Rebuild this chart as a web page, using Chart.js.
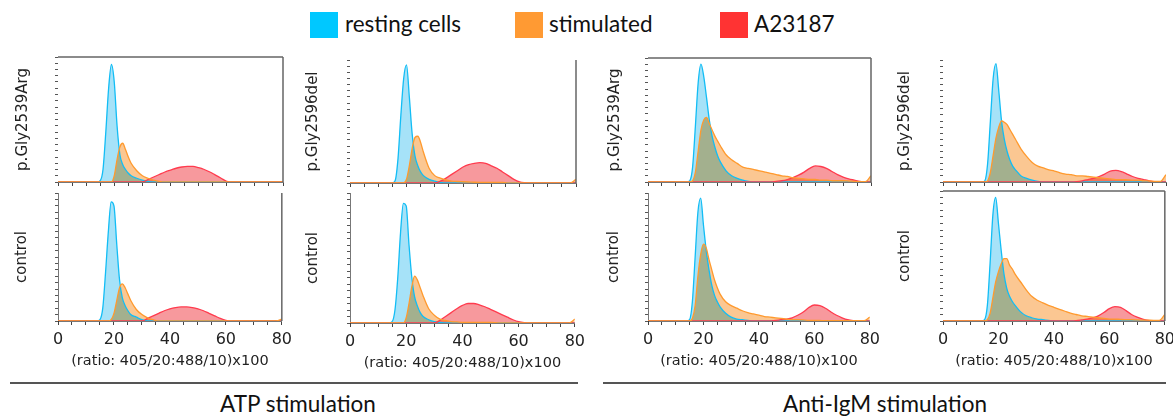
<!DOCTYPE html>
<html>
<head>
<meta charset="utf-8">
<script src="https://cdn.jsdelivr.net/npm/chart.js@4.4.1/dist/chart.umd.min.js"></script>
<style>
  html, body { margin: 0; padding: 0; background: #fff; }
  body { width: 1173px; height: 417px; position: relative; overflow: hidden; }
  .panel { position: absolute; }
  .leg { position: absolute; font-family: Lato, "Open Sans", sans-serif; font-size: 22.5px; color: #111; line-height: 26px; }
  .sw { position: absolute; width: 28px; height: 26px; }
  .hr { position: absolute; height: 2px; background: #555; }
  .grp { position: absolute; text-align: center; font-family: Lato, "Open Sans", sans-serif; font-size: 22.5px; color: #111; }
</style>
</head>
<body>

<div class="sw" style="left:310px;top:12px;background:#00C8FF"></div>
<div class="leg" style="left:345px;top:11px">resting cells</div>
<div class="sw" style="left:515px;top:12px;background:#FF9A33"></div>
<div class="leg" style="left:549px;top:11px">stimulated</div>
<div class="sw" style="left:720px;top:12px;background:#FF3333"></div>
<div class="leg" style="left:754px;top:11px">A23187</div>

<div class="hr" style="left:10px;top:382px;width:568px"></div>
<div class="hr" style="left:603px;top:382px;width:563px"></div>
<div class="grp" style="left:0px;top:390px;width:596px">ATP stimulation</div>
<div class="grp" style="left:600px;top:390px;width:570px">Anti-IgM stimulation</div>

<script>
// histogram bins, x = (ratio 405/20 : 488/10) x 100
const bins = [0,12,14,15,16,17,18,19,20,21,22,23,24,25,26,28,30,32,34,36,38,40,42,44,46,48,50,52,54,56,58,60,62,64,66,68,70,72,74,76,78,80];

// ATP stimulation, p.Gly2539Arg
const atpMutRest = [0,0,0,1,10,40,75,94,80,45,22,14,10,7,5,3,1.5,0.5,0,0,0,0,0,0,0,0,0,0,0,0,0,0,0,0,0,0,0,0,0,0,0,0];
const atpMutStim = [0,0,0,0,0,0,0,0,5,18,28,31,26,20,15,9,5,3,1.5,0.5,0,0,0,0,0,0,0,0,0,0,0,0,0,0,0,0,0,0,0,0,0,0];
const atpMutA23  = [0,0,0,0,0,0,0,0,0,0,0,0,0,0,0,0,0,2,4,6,8,9.5,11,12,12.5,12.5,11.5,10,8,5.5,3,0.5,0,0,0,0,0,0,0,0,0,0];
// ATP stimulation, control
const atpCtlRest = [0,0,0,1,10,38,70,93,90,60,32,18,12,8,5,3,1,0,0,0,0,0,0,0,0,0,0,0,0,0,0,0,0,0,0,0,0,0,0,0,0,0];
const atpCtlStim = [0,0,0,0,0,0,0,1,6,16,26,29,26,21,16,9,5,2.5,1,0,0,0,0,0,0,0,0,0,0,0,0,0,0,0,0,0,0,0,0,0,0,1.5];
const atpCtlA23  = [0,0,0,0,0,0,0,0,0,0,0,0,0,0,0,0,0,2,4,6,8,9.5,10.5,11,11,10.5,9.5,8,6,4,2,0.5,0,0,0,0,0,0,0,0,0,0];
// ATP stimulation, p.Gly2596del
const atpDelRest = [0,0,0,0,2,20,55,85,96,70,40,22,14,9,6,3,1.5,0.5,0,0,0,0,0,0,0,0,0,0,0,0,0,0,0,0,0,0,0,0,0,0,0,0];
const atpDelStim = [0,0,0,0,0,0,0,0,3,14,28,37,38,33,25,12,6,4,2.5,1.5,1.2,1,0.8,0.6,0.5,0.5,0.5,0.5,0.5,0,0,0,0,0,0,0,0,0,0,0,0,3];
const atpDelA23  = [0,0,0,0,0,0,0,0,0,0,0,0,0,0,0,0,0,1.5,4,7,10,13,15,16,16.5,16,14,12,9,6,3,1,0.3,0,0,0,0,0,0,0,0,0];
// ATP stimulation, control (second donor)
const atpCt2Rest = [0,0,0,1,10,35,70,92,90,60,35,20,13,8,5,2.5,1,0.5,0,0,0,0,0,0,0,0,0,0,0,0,0,0,0,0,0,0,0,0,0,0,0,0];
const atpCt2Stim = [0,0,0,0,0,0,0,0,4,15,28,36,33,27,21,11,6,3,2,1,0.8,0.5,0.5,0.5,0.5,0.5,0.5,0.3,0,0,0,0,0,0,0,0,0,0,0,0,0,3];
const atpCt2A23  = [0,0,0,0,0,0,0,0,0,0,0,0,0,0,0,0,0,2,5,8,11,13.5,15,15,14,12.5,10.5,8.5,6.5,4.5,2.5,1,0.3,0,0,0,0,0,0,0,0,0];
// Anti-IgM stimulation, p.Gly2539Arg
const igmMutRest = [0,0,0,1,12,45,80,95,85,68,50,37,28,21,16,9,5,3,1.5,0.5,0,0,0,0,0,0,0,0,0,0,0,0,0,0,0,0,0,0,0,0,0,0];
const igmMutStim = [0,0,0,0,1,8,25,42,50,52,47,42,37,33,29,22,18,15,12,11,10,9,8,7,6,5,4.5,3.5,3,2.5,2,2,1.5,1.5,1,1,1,0.8,0.5,0.3,0.3,5];
const igmMutA23  = [0,0,0,0,0,0,0,0,0,0,0,0,0,0,0,0,0,0,0,0,0,0,0,0,0.5,1,2,3.5,5.5,8,11,13,12.5,11,8.5,6,4,2.5,1.5,0.5,0,0];
// Anti-IgM stimulation, control
const igmCtlRest = [0,0,0,1,15,50,85,96,75,55,40,28,20,15,11,6,3,1.5,1,0.5,0,0,0,0,0,0,0,0,0,0,0,0,0,0,0,0,0,0,0,0,0,0];
const igmCtlStim = [0,0,0,0,2,12,35,52,60,57,48,40,32,26,21,15,12,10,8,6.5,5.5,4.5,3.5,3,2.5,2,1.5,1,1,0.8,0.5,0.5,0.4,0.3,0.3,0.2,0.2,0.2,0.2,0.2,0.3,3];
const igmCtlA23  = [0,0,0,0,0,0,0,0,0,0,0,0,0,0,0,0,0,0,0,0,0,0,0,0,0.5,1,1.5,2.5,4.5,7,10.5,12.5,12,10,7,4.5,2.5,1,0.3,0,0,0];
// Anti-IgM stimulation, p.Gly2596del
const igmDelRest = [0,0,0,1,15,50,85,97,75,50,35,25,18,13,10,5,3,1.5,0.5,0,0,0,0,0,0,0,0,0,0,0,0,0,0,0,0,0,0,0,0,0,0,0];
const igmDelStim = [0,0,0,0,1,8,22,36,45,50,49,47,43,39,35,27,21,16,13,11.5,10,9,7.5,6.5,6,5,5,4.5,4,3.5,3,2.5,2,2,1.8,1.5,1.5,1,0.8,0.5,0.5,6];
const igmDelA23  = [0,0,0,0,0,0,0,0,0,0,0,0,0,0,0,0,0,0,0,0,0,0,0,0,0,0.3,1,2,3,4.5,6.5,9,9.5,8.5,6.5,4.5,3,2,1,0.3,0,0];
// Anti-IgM stimulation, control (second donor)
const igmCt2Rest = [0,0,0,1,12,45,82,95,75,54,36,25,19,15,12,7,4,2.5,1.5,1,0.5,0,0,0,0,0,0,0,0,0,0,0,0,0,0,0,0,0,0,0,0,0];
const igmCt2Stim = [0,0,0,0,1,6,18,30,38,44,48,48,43,40,36,30,24,19,16,14,12,10.5,9,7.5,6,5,4,3.5,3,2.5,2,1.5,1.5,1.2,1,1,0.8,0.7,0.6,0.5,0.5,5];
const igmCt2A23  = [0,0,0,0,0,0,0,0,0,0,0,0,0,0,0,0,0,0,0,0,0,0,0,0,0,0.2,0.8,1.5,2.5,4,6.5,9.5,11,10.5,8,5,3,1.5,0.5,0,0,0];

const xTitle = '(ratio: 405/20:488/10)x100';
const pts = ys => bins.map((x, i) => ({x: x, y: ys[i]}));

// fills are multiplied so overlaps go olive like the original, lines drawn normally
const framePlugin = {
  id: 'frame',
  beforeDraw(chart) { chart.ctx.globalCompositeOperation = 'multiply'; },
  beforeDatasetsDraw(chart) { chart.ctx.globalCompositeOperation = 'source-over'; },
  afterDatasetsDraw(chart, args, opts) {
    const ctx = chart.ctx, a = chart.chartArea;
    ctx.save();
    ctx.strokeStyle = '#666';
    ctx.lineWidth = 1.5;
    ctx.beginPath();
    if (opts.top) { ctx.moveTo(a.left, a.top); ctx.lineTo(a.right, a.top); }
    if (opts.right) { ctx.moveTo(a.right, a.top); ctx.lineTo(a.right, a.bottom); }
    ctx.stroke();
    ctx.restore();
  }
};

const panels = [
  {left: 58,  right: 283,  top: 57,  bottom: 182, tx: 23,  name: 'p.Gly2539Arg', rest: atpMutRest, stim: atpMutStim, a23: atpMutA23, fTop: true,  fRight: true,  yLine: false, labels: false},
  {left: 350, right: 576,  top: 60,  bottom: 183, tx: 313, name: 'p.Gly2596del', rest: atpDelRest, stim: atpDelStim, a23: atpDelA23, fTop: false, fRight: true,  yLine: false, labels: false},
  {left: 648, right: 871,  top: 58,  bottom: 182, tx: 615, name: 'p.Gly2539Arg', rest: igmMutRest, stim: igmMutStim, a23: igmMutA23, fTop: true,  fRight: true,  yLine: false, labels: false},
  {left: 943, right: 1166, top: 60,  bottom: 182, tx: 905, name: 'p.Gly2596del', rest: igmDelRest, stim: igmDelStim, a23: igmDelA23, fTop: false, fRight: false, yLine: false, labels: false},
  {left: 58,  right: 283,  top: 193, bottom: 321, tx: 22,  name: 'control', rest: atpCtlRest, stim: atpCtlStim, a23: atpCtlA23, fTop: false, fRight: true,  yLine: true,  labels: true},
  {left: 350, right: 576,  top: 193, bottom: 323, tx: 313, name: 'control', rest: atpCt2Rest, stim: atpCt2Stim, a23: atpCt2A23, fTop: false, fRight: false, yLine: true,  labels: true},
  {left: 648, right: 871,  top: 193, bottom: 321, tx: 614, name: 'control', rest: igmCtlRest, stim: igmCtlStim, a23: igmCtlA23, fTop: false, fRight: false, yLine: true,  labels: true},
  {left: 943, right: 1166, top: 191, bottom: 321, tx: 905, name: 'control', rest: igmCt2Rest, stim: igmCt2Stim, a23: igmCt2A23, fTop: true,  fRight: true,  yLine: false, labels: true}
];

panels.forEach(p => {
  const divLeft = p.tx - 13;
  const yW = p.left - divLeft;
  const xH = p.labels ? 53 : 8;
  const div = document.createElement('div');
  div.className = 'panel';
  div.style.left = divLeft + 'px';
  div.style.top = (p.top - 6) + 'px';
  div.style.width = (p.right - divLeft + 14) + 'px';
  div.style.height = (p.bottom - p.top + 6 + xH) + 'px';
  const cv = document.createElement('canvas');
  div.appendChild(cv);
  document.body.appendChild(div);

  new Chart(cv, {
    type: 'line',
    data: {
      datasets: [
        {label: 'stimulated', data: pts(p.stim), borderColor: '#FF9A2E', backgroundColor: '#FBC792', fill: 'origin', order: 0},
        {label: 'A23187', data: pts(p.a23), borderColor: '#FF3B4E', backgroundColor: '#F7999D', fill: 'origin', order: 1},
        {label: 'resting cells', data: pts(p.rest), borderColor: '#12BDF5', backgroundColor: '#A6E2F8', fill: 'origin', order: 2}
      ]
    },
    options: {
      responsive: true,
      maintainAspectRatio: false,
      animation: false,
      layout: {padding: {top: 6, right: 14, left: 0, bottom: 0}},
      elements: {
        point: {radius: 0},
        line: {borderWidth: 1.3, cubicInterpolationMode: 'monotone'}
      },
      plugins: {
        legend: {display: false},
        tooltip: {enabled: false},
        filler: {drawTime: 'beforeDatasetsDraw'},
        frame: {top: p.fTop, right: p.fRight}
      },
      scales: {
        x: {
          type: 'linear', min: 0, max: 80,
          afterFit: s => { s.height = xH; },
          ticks: {
            display: p.labels, stepSize: 5, autoSkip: false, maxRotation: 0, padding: 5,
            callback: v => (v % 20 === 0 ? v : ''),
            font: {family: 'DejaVu Sans', size: 16}, color: '#222'
          },
          grid: {drawOnChartArea: false, tickLength: 4, tickColor: '#444'},
          border: {display: true, color: '#777'},
          title: {display: p.labels, text: xTitle, font: {family: 'DejaVu Sans', size: 14.5}, color: '#222', padding: {top: 4, bottom: 4}}
        },
        y: {
          min: 0, max: 100,
          afterFit: s => { s.width = yW; },
          ticks: {display: false, stepSize: 5},
          grid: {drawOnChartArea: false, tickLength: 3, tickColor: '#555'},
          border: {display: p.yLine, color: '#777'},
          title: {display: true, text: p.name, font: {family: 'DejaVu Sans', size: 15}, color: '#222', padding: {top: 4, bottom: 4}}
        }
      }
    },
    plugins: [framePlugin]
  });
});
</script>
</body>
</html>
